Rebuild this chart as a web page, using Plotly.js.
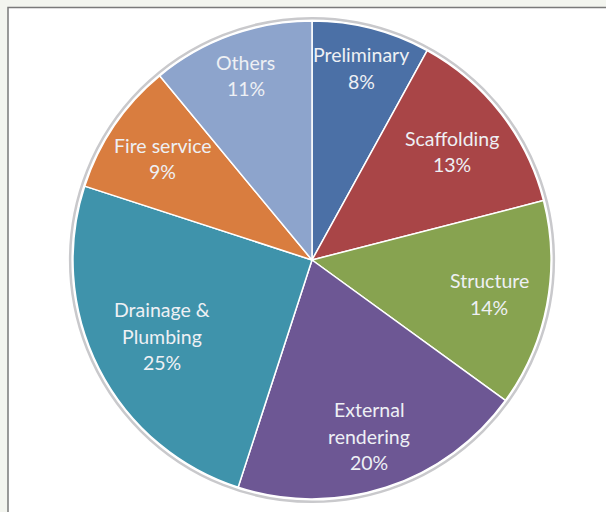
<!DOCTYPE html>
<html>
<head>
<meta charset="utf-8">
<script src="https://cdn.plot.ly/plotly-3.0.1.min.js"></script>
<style>
  html, body { margin: 0; padding: 0; background: #f3f5ef; }
  #chart { width: 606px; height: 512px; }
</style>
</head>
<body>
<div id="chart"></div>
<script>
// ---- data ----
const categories = ["Preliminary", "Scaffolding", "Structure", "External rendering", "Drainage & Plumbing", "Fire service", "Others"];
const labelLines = [["Preliminary"], ["Scaffolding"], ["Structure"], ["External", "rendering"], ["Drainage &", "Plumbing"], ["Fire service"], ["Others"]];
const shares = [8, 13, 14, 20, 25, 9, 11];

// ---- styling / placement ----
const colors = ["#4b70a6", "#a94547", "#87a350", "#6d5794", "#3f93ab", "#d97d3f", "#8da4cc"];
const labelRadius = [0.83, 0.74, 0.755, 0.775, 0.705, 0.755, 0.82];

const W = 606, H = 512;
const mL = 73, mR = 55, mT = 21, mB = 13;
const pw = W - mL - mR, ph = H - mT - mB;
const px2x = p => (p - mL) / pw;
const py2y = p => (H - mB - p) / ph;

const total = shares.reduce((a, b) => a + b, 0);
const annotations = [];
let cum = 0;
const lineGap = 26.5;
shares.forEach((v, i) => {
  const mid = (cum + v / 2) / total * 2 * Math.PI;
  cum += v;
  const cx = 0.5 + labelRadius[i] * 0.5 * Math.sin(mid);
  const cy = 0.5 + labelRadius[i] * 0.5 * Math.cos(mid);
  const lines = labelLines[i].concat([v + "%"]);
  const n = lines.length;
  lines.forEach((t, k) => {
    annotations.push({
      xref: "paper", yref: "paper", x: cx, y: cy,
      text: t, showarrow: false,
      xanchor: "center", yanchor: "middle",
      yshift: -(k - (n - 1) / 2) * lineGap,
      font: { family: "Lato, 'Open Sans', sans-serif", size: 19.5, color: "#eef0f4" }
    });
  });
});

const trace = {
  type: "pie",
  labels: categories,
  values: shares,
  sort: false,
  direction: "clockwise",
  rotation: 0,
  textinfo: "none",
  hoverinfo: "label+percent",
  marker: { colors: colors, line: { color: "#ffffff", width: 1.5 } },
  domain: { x: [0, 1], y: [0, 1] }
};

const layout = {
  width: W, height: H,
  margin: { l: mL, r: mR, t: mT, b: mB, pad: 0 },
  paper_bgcolor: "#f3f5ef",
  showlegend: false,
  shapes: [
    { type: "rect", xref: "paper", yref: "paper", layer: "below",
      x0: px2x(8), x1: px2x(640), y0: py2y(540), y1: py2y(7.5),
      fillcolor: "#ffffff", line: { color: "#7a7a7a", width: 1.5 } },
    { type: "circle", xref: "paper", yref: "paper", layer: "below",
      x0: -0.006, x1: 1.006, y0: -0.006, y1: 1.006,
      fillcolor: "rgba(0,0,0,0)", line: { color: "#c9c9cc", width: 2.5 } }
  ],
  annotations: annotations
};

Plotly.newPlot("chart", [trace], layout, { displayModeBar: false, staticPlot: true });
</script>
</body>
</html>
